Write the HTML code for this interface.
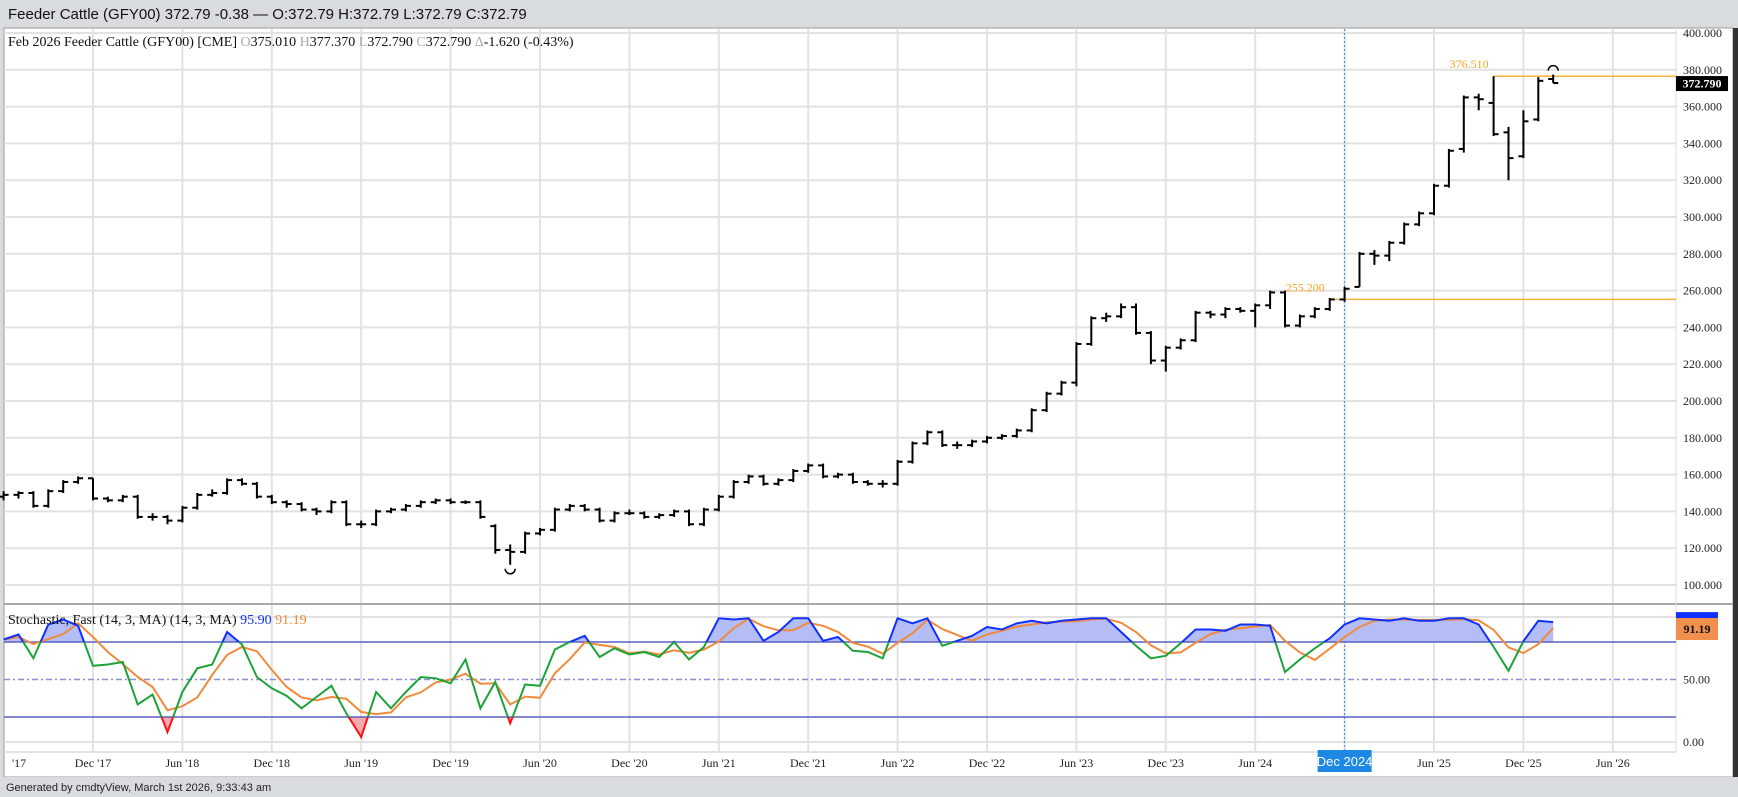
<!DOCTYPE html>
<html><head><meta charset="utf-8">
<style>
html,body{margin:0;padding:0;background:#d9dcdf;}
svg{display:block;font-family:"Liberation Serif",serif;}
.sans{font-family:"Liberation Sans",sans-serif;}
</style></head>
<body>
<svg id="chart" width="1738" height="797" viewBox="0 0 1738 797" xmlns="http://www.w3.org/2000/svg">
  <rect x="0" y="0" width="1738" height="797" fill="#d9dcdf"/>
  <text class="sans" x="8" y="19" font-size="15" fill="#111">Feeder Cattle (GFY00) 372.79 -0.38 — O:372.79 H:372.79 L:372.79 C:372.79</text>
  <rect x="4" y="28" width="1729" height="749" fill="#fff" stroke="#9a9a9a" stroke-width="1"/>
  <rect x="1733" y="28" width="5" height="749" fill="#333"/>
  <g id="grid"></g>
  <g id="price"></g>
  <g id="stoch"></g>
  <g id="axes"></g>
  <text x="8" y="46" font-size="14" fill="#111">Feb 2026 Feeder Cattle (GFY00) [CME] <tspan fill="#aaa">O</tspan>375.010 <tspan fill="#aaa">H</tspan>377.370 <tspan fill="#aaa">L</tspan>372.790 <tspan fill="#aaa">C</tspan>372.790 <tspan fill="#aaa">Δ</tspan>-1.620 (-0.43%)</text>
  <text x="8" y="624" font-size="14" fill="#111">Stochastic, Fast (14, 3, MA)  (14, 3, MA) <tspan fill="#1030ff">95.90</tspan> <tspan fill="#f08a3c">91.19</tspan></text>
  <rect x="0" y="777" width="1733" height="20" fill="#d9dcdf"/>
  <text class="sans" x="6" y="791" font-size="11" fill="#222">Generated by cmdtyView, March 1st 2026, 9:33:43 am</text>
</svg>
<script>
// month index: 0 = Dec 2017; bars run Jun 2017 (-6) .. Feb 2026 (98)
const startMonth = -6;
const closes = [
149,150,143,151,156,158,147,146,148,137,
137,135,142,149,150,157,155,148,145,144,
141,140,145,133,133,140,141,143,145,146,
145,145,137,119,118,128,130,141,143,141,
135,139,139,137,138,140,133,141,148,156,
159,155,157,162,165,159,160,156,155,155,
167,177,183,176,176,178,180,181,184,195,
204,210,231,245,246,251,237,222,229,233,
248,247,250,249,252,259,241,246,250,255.2,
261,280,279,286,296,302,317,336,365,364,
345,332,352,374,372.79];
const opens = [
148,149,150,143,151,156,158,147,146,148,
137,137,135,142,149,150,157,155,148,145,
144,141,140,145,133,133,140,141,143,145,
146,145,145,132,119,118,128,130,141,143,
141,135,139,139,137,138,140,133,141,148,
156,159,155,157,162,165,159,160,156,155,
155,167,177,183,176,176,178,180,181,184,
195,204,210,231,245,246,251,237,222,229,
233,248,247,250,249,252,259,241,246,250,
255.2,262,280,279,286,296,302,317,337,365,
362,346,333,353,375.01];
const highs = [
151,151,151,152,157,159,158,148,149,149,
139,138,143,150,152,158,158,156,149,146,
145,142,146,146,135,141,142,144,146,147,
147,146,146,133,122,129,131,142,144,144,
142,140,141,140,139,141,141,142,149,157,
160,160,158,163,166,166,161,161,157,157,
168,178,184,184,178,179,181,182,185,196,
205,211,232,246,248,253,253,238,230,234,
249,249,251,251,253,260,260,247,251,256,
262,281,282,287,297,303,318,337,366,367,
376.51,349,358,376,377.37];
const lows = [
146,147,142,142,150,155,146,145,145,136,
135,133,134,141,148,149,154,147,144,142,
140,138,139,132,131,132,139,140,142,144,
144,144,136,117,111,117,127,129,140,140,
134,134,138,136,136,137,132,132,140,147,
155,154,154,156,161,158,158,155,154,153,
154,166,176,175,174,175,177,179,180,183,
194,203,208,230,243,245,236,220,216,228,
232,245,245,248,240,250,240,240,245,249,
254,262,274,276,285,295,301,316,335,358,
344,320,332,352,372.79];
const kValues = [
82,86,67,94,98,93,61,62,64,30,
38,8,40,59,62,88,78,52,43,37,
27,36,45,23,4,40,27,40,52,51,
47,66,27,48,15,46,45,74,80,85,
68,75,70,72,68,80,66,76,99,98,
99,81,88,99,99,81,84,73,72,67,
99,95,99,77,81,85,92,90,95,97,
95,97,98,99,99,88,77,67,69,79,
90,90,89,94,94,93,56,66,75,83,
94,99,98,97,99,97,97,99,99,94,
76,57,80.67,97,95.9];
const priceTicks = [100,120,140,160,180,200,220,240,260,280,300,320,340,360,380,400];
const stochTicks = [0,50];
const xLabels = ["Jun '17","Dec '17","Jun '18","Dec '18","Jun '19","Dec '19","Jun '20","Dec '20","Jun '21","Dec '21","Jun '22","Dec '22","Jun '23","Dec '23","Jun '24","Dec 2024","Jun '25","Dec '25","Jun '26"];
const refLevels = [376.51, 255.2];
const refStartMonth = [94, 83];

const NS="http://www.w3.org/2000/svg";
const X0=93, MW=14.9, PL=4, PR=1676;
const x = m => X0 + MW*m;
const yP = v => 33 + (400 - v)*1.84;
const yS = v => 742 - 1.25*v;
function mk(tag, attrs, parent){const e=document.createElementNS(NS,tag);for(const k in attrs)e.setAttribute(k,attrs[k]);parent.appendChild(e);return e;}
const grid=document.getElementById('grid'), price=document.getElementById('price'), stoch=document.getElementById('stoch'), axes=document.getElementById('axes');

xLabels.forEach((lab,i)=>{
  const xx=x(-6+6*i);
  if(xx<PL||xx>PR) return;
  const g=mk('line',{x1:xx,x2:xx,y1:29,y2:752,stroke:'#e2e2e2','stroke-width':2},grid);
  
  
});
priceTicks.forEach(v=>{
  const yy=yP(v);
  const l=mk('line',{x1:PL,x2:PR,y1:yy,y2:yy,stroke:'#e2e2e2','stroke-width':2},grid);
  
  
  const t=mk('text',{x:1683,y:yy+4,'font-size':12,fill:'#222'},axes);
  t.textContent=v.toFixed(3);
  
  
});
mk('line',{x1:PL,x2:1733,y1:604,y2:604,stroke:'#a8a8a8','stroke-width':2},grid);
mk('line',{x1:PR,x2:PR,y1:28,y2:752,stroke:'#dcdcdc','stroke-width':1},grid);
[100,0].forEach(v=>{mk('line',{x1:PL,x2:PR,y1:yS(v),y2:yS(v),stroke:'#e2e2e2','stroke-width':2},grid);});
mk('line',{x1:PL,x2:PR,y1:752,y2:752,stroke:'#e2e2e2','stroke-width':2},grid);

const dx=x(84);
const dl=mk('line',{x1:dx,x2:dx,y1:29,y2:752,stroke:'#3a8ee6','stroke-width':1,'stroke-dasharray':'2,2'},grid);



refLevels.forEach((v,i)=>{
  const yy=yP(v), xs=x(refStartMonth[i]);
  const l=mk('line',{x1:xs,x2:PR,y1:yy,y2:yy,stroke:'#f7b33c','stroke-width':1.5},price);
  
  
  const t=mk('text',{x:xs-44,y:yy-8,'font-size':12,fill:'#f5a623'},price);
  t.textContent=v.toFixed(3);
  
  
});

closes.forEach((c,i)=>{
  const m=startMonth+i, xx=x(m);
  const g=mk('g',{stroke:'#000','stroke-width':2,fill:'none'},price);
  
  
  mk('line',{x1:xx,x2:xx,y1:yP(highs[i]),y2:yP(lows[i])},g);
  mk('line',{x1:xx-5,x2:xx,y1:yP(opens[i]),y2:yP(opens[i])},g);
  mk('line',{x1:xx,x2:xx+5,y1:yP(c),y2:yP(c)},g);
});
(function(){
  let hi=0, lo=0;
  highs.forEach((h,i)=>{if(h>highs[hi])hi=i;});
  lows.forEach((l,i)=>{if(l<lows[lo])lo=i;});
  const hx=x(startMonth+hi), hy=yP(highs[hi])-4;
  const a=mk('path',{d:`M${hx-5},${hy} A5,5 0 0 1 ${hx+5},${hy}`,stroke:'#000','stroke-width':1.5,fill:'none'},price);
  
  
  const lx=x(startMonth+lo), ly=yP(lows[lo])+4;
  const b=mk('path',{d:`M${lx-5},${ly} A5,5 0 0 0 ${lx+5},${ly}`,stroke:'#000','stroke-width':1.5,fill:'none'},price);
  
  
})();
(function(){
  const c=closes[closes.length-1], yy=yP(c);
  const r=mk('rect',{x:1676,y:yy-7,width:52,height:15,fill:'#000'},axes);
  
  
  const t=mk('text',{x:1702,y:yy+4.5,'font-size':12,fill:'#fff','text-anchor':'middle','font-weight':'bold'},axes);
  t.textContent=c.toFixed(3);
  
  
})();

const dValues = kValues.map((v,i)=>{const s=kValues.slice(Math.max(0,i-2),i+1);return s.reduce((a,b)=>a+b,0)/s.length;});
const defs=mk('defs',{},stoch);
mk('rect',{x:0,y:0,width:1738,height:yS(80)},mk('clipPath',{id:'cpHi'},defs));
mk('rect',{x:0,y:yS(80),width:1738,height:yS(20)-yS(80)},mk('clipPath',{id:'cpMid'},defs));
mk('rect',{x:0,y:yS(20),width:1738,height:200},mk('clipPath',{id:'cpLo'},defs));
const kpts=kValues.map((v,i)=>[x(startMonth+i),yS(v)]);
const kStr=kpts.map(p=>p[0].toFixed(1)+','+p[1].toFixed(1)).join(' ');
const x0=kpts[0][0], x1=kpts[kpts.length-1][0];
const fHi=mk('polygon',{points:`${x0},${yS(80)} ${kStr} ${x1},${yS(80)}`,fill:'#b4bdf6','clip-path':'url(#cpHi)'},stoch);


const fLo=mk('polygon',{points:`${x0},${yS(20)} ${kStr} ${x1},${yS(20)}`,fill:'#f6a9b0','clip-path':'url(#cpLo)'},stoch);


[[80,'solid'],[20,'solid'],[50,'dash']].forEach(([v,s])=>{
  const l=mk('line',{x1:PL,x2:PR,y1:yS(v),y2:yS(v),stroke:s==='dash'?'#8a8fd8':'#5860c4','stroke-width':1.5},stoch);
  if(s==='dash') l.setAttribute('stroke-dasharray','6,3,2,3');
  
  
});
const dl2=mk('polyline',{points:dValues.map((v,i)=>x(startMonth+i).toFixed(1)+','+yS(v).toFixed(1)).join(' '),fill:'none',stroke:'#f08a3c','stroke-width':2},stoch);


[['cpMid','#1ca33a'],['cpHi','#1030ff'],['cpLo','#ff1010']].forEach(([cp,col])=>{
  const p=mk('polyline',{points:kStr,fill:'none',stroke:col,'stroke-width':2,'clip-path':`url(#${cp})`},stoch);
  
  
});
stochTicks.forEach(v=>{
  const t=mk('text',{x:1683,y:yS(v)+4,'font-size':12,fill:'#222'},axes);
  t.textContent=v.toFixed(2);
  
  
});
(function(){
  const k=kValues[kValues.length-1], d=dValues[dValues.length-1];
  const b=mk('rect',{x:1676,y:yS(k)-10,width:42,height:12,fill:'#1030ff'},axes);
  
  
  const o=mk('rect',{x:1676,y:yS(d)-10,width:42,height:22,fill:'#f0904c'},axes);
  
  
  const t=mk('text',{x:1697,y:yS(d)+5,'font-size':12,fill:'#111','text-anchor':'middle','font-weight':'bold'},axes);
  t.textContent=d.toFixed(2);
  
  
})();

xLabels.forEach((lab,i)=>{
  const m=-6+6*i, xx=x(m);
  if(lab==='Dec 2024'){
    const r=mk('rect',{x:xx-27,y:750,width:54,height:22,fill:'#1e88e5'},axes);
    
    
    const t=mk('text',{x:xx,y:766,'font-size':13,fill:'#fff','text-anchor':'middle',class:'sans'},axes);
    t.textContent=lab;
    
    
    return;
  }
  const t=mk('text',{x:xx<20?12:xx,y:767,'font-size':12,fill:'#222','text-anchor':xx<20?'start':'middle'},axes);
  t.textContent=xx<20?"'17":lab;
  
  
});
</script>
</body></html>
